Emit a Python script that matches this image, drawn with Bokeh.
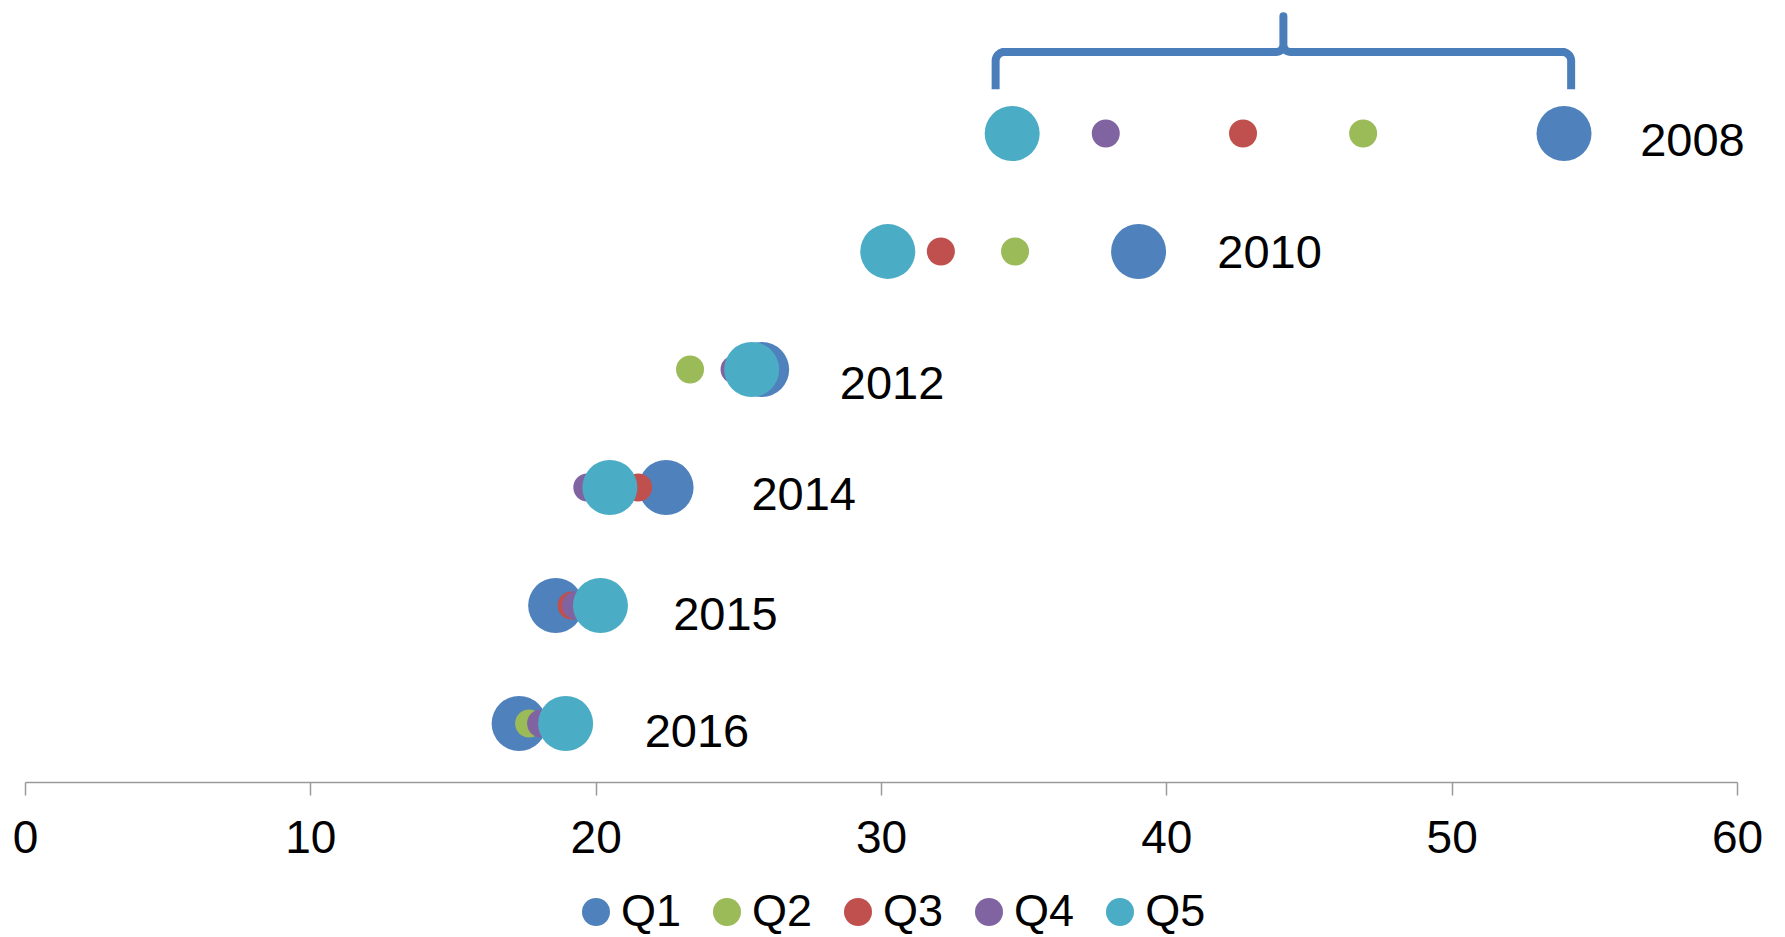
import numpy as np
from bokeh.plotting import figure
from bokeh.layouts import column
from bokeh.models import Range1d, Legend, LegendItem, ColumnDataSource, SingleIntervalTicker
from bokeh.core.properties import value
from bokeh.embed import file_html
from bokeh.resources import INLINE

# ---------------- data ----------------
years = ["2008", "2010", "2012", "2014", "2015", "2016"]
row_pos = [6, 5, 4, 3, 2, 1]
q1 = [53.92, 39.01, 25.80, 22.45, 18.58, 17.30]
q2 = [46.88, 34.68, 23.29, 20.50, 19.90, 17.65]
q3 = [42.67, 32.08, 25.30, 21.47, 19.14, 18.40]
q4 = [37.86, 30.20, 24.85, 19.69, 19.30, 18.07]
q5 = [34.58, 30.22, 25.45, 20.48, 20.15, 18.93]
series_names = ["Q1", "Q2", "Q3", "Q4", "Q5"]
# year labels (hidden label series)
label_x = [56.59, 41.77, 28.54, 25.44, 22.70, 21.70]
label_y = [5.943, 4.992, 3.884, 2.949, 1.925, 0.937]
# brace over the 2008 spread
brace_span = [34.0, 54.17]
axis_bounds = [0, 60]
x_ticks_interval = 10

# ---------------- styles ----------------
colors = ["#4F81BD", "#9BBB59", "#C0504D", "#8064A2", "#4BACC6"]
sizes = [55, 28, 28, 28, 55]
FONT = "Liberation Sans"

W = 1785
H1 = 875          # main chart
H2 = 937 - H1     # legend strip
frame_left, frame_top = 25, 8
px_per_x = 1712 / 60.0
px_per_y = 118.0
frame_w = W - frame_left
frame_h = 774
y0 = 0.5
x_range = Range1d(0, frame_w / px_per_x)
y_range = Range1d(y0, y0 + frame_h / px_per_y)

p = figure(width=W, height=H1, x_range=x_range, y_range=y_range,
           output_backend="svg", toolbar_location=None,
           y_axis_location=None,
           min_border_left=frame_left, min_border_right=0,
           min_border_top=frame_top, min_border_bottom=H1 - frame_h - frame_top)
p.outline_line_color = None
p.grid.visible = False
p.background_fill_color = "white"
p.border_fill_color = "white"

sources = []
for name, vals, c, s in zip(series_names, [q1, q2, q3, q4, q5], colors, sizes):
    src = ColumnDataSource(dict(x=vals, y=row_pos, year=years))
    sources.append(src)
    p.scatter("x", "y", source=src, size=s, fill_color=c, line_color=None)

lab_src = ColumnDataSource(dict(x=label_x, y=label_y, text=years))
p.text("x", "y", text="text", source=lab_src, text_font=value(FONT),
       text_font_size="47px", text_color="black",
       text_align="left", text_baseline="middle")

# brace path
XU = 1 / px_per_x
YU = 1 / px_per_y
yb = 6 + (133.3 - 89) * YU      # bottom of brace ends
ybar = 6 + (133.3 - 51.7) * YU  # horizontal bar
ypk = 6 + (133.3 - 16.0) * YU   # tip of peak
xl, xr = brace_span
xm = (xl + xr) / 2
rc = 9.0
rp = 7.0
t = np.linspace(0, np.pi / 2, 12)
cl_x = xl + rc * XU * (1 - np.cos(t))
cl_y = ybar - rc * YU * (1 - np.sin(t))
pl_x = xm - rp * XU + rp * XU * np.sin(t)
pl_y = ybar + rp * YU - rp * YU * np.cos(t)
left_x = [xl] + list(cl_x) + list(pl_x) + [xm]
left_y = [yb] + list(cl_y) + list(pl_y) + [ypk]
right_x = [2 * xm - v for v in left_x][::-1]
right_y = left_y[::-1]
p.line(left_x + right_x[1:], left_y + right_y[1:], line_color="#4A7EBB",
       line_width=8, line_join="round", line_cap="butt")

# axis
ax = p.xaxis[0]
ax.bounds = tuple(axis_bounds)
ax.ticker = SingleIntervalTicker(interval=x_ticks_interval)
ax.axis_line_color = "#9A9A9A"
ax.axis_line_width = 1.5
ax.major_tick_line_color = "#9A9A9A"
ax.major_tick_line_width = 1.5
ax.major_tick_out = 13
ax.major_tick_in = 0
ax.minor_tick_line_color = None
ax.major_label_text_font = FONT
ax.major_label_text_font_size = "46px"
ax.major_label_text_color = "black"
ax.major_label_standoff = 25

# legend strip (legend glyphs share the series' sources; the strip's ranges show no points)
pl = figure(width=W, height=H2, x_range=Range1d(-2, -1), y_range=Range1d(-2, -1),
            output_backend="svg", toolbar_location=None,
            x_axis_location=None, y_axis_location=None,
            min_border_left=0, min_border_right=0, min_border_top=0, min_border_bottom=0)
pl.outline_line_color = None
pl.grid.visible = False
items = []
for name, c, src in zip(series_names, colors, sources):
    r = pl.ellipse("x", "y", source=src, width=28, height=28,
                   width_units="screen", height_units="screen",
                   fill_color=c, line_color=None)
    items.append(LegendItem(label=name, renderers=[r]))
legend = Legend(items=items, orientation="horizontal", location=(553, -1.5),
                glyph_width=35, glyph_height=55, label_height=55,
                label_standoff=8, spacing=28,
                padding=0, margin=0, border_line_color=None, background_fill_alpha=0,
                label_text_font=FONT, label_text_font_size="45px", label_text_color="black")
pl.add_layout(legend, "center")

open("out.html", "w").write(file_html(column(p, pl, spacing=0), INLINE))
